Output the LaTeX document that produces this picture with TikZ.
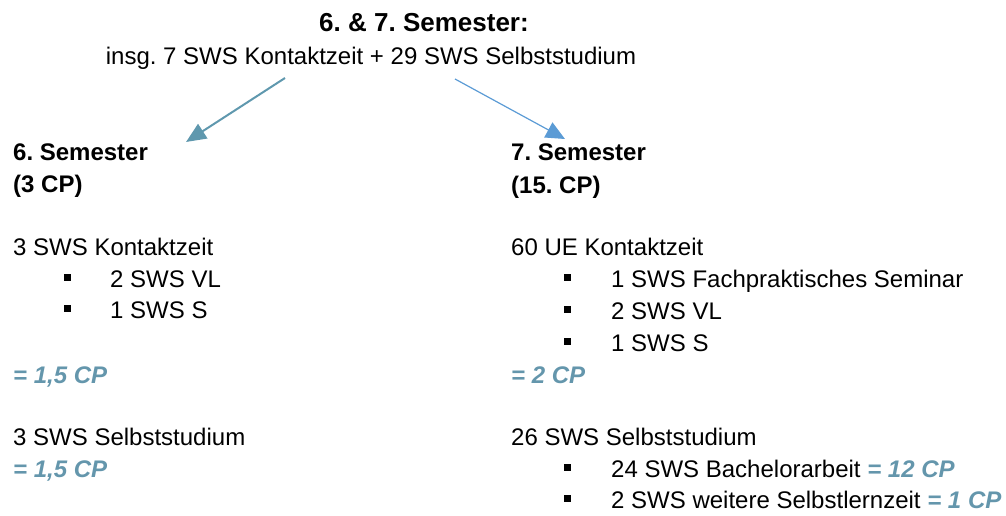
\documentclass[tikz,border=0pt]{standalone}
\usepackage{fontspec}
\setmainfont{Liberation Sans}
\usetikzlibrary{arrows.meta}
\definecolor{cpcol}{RGB}{100,150,172}
\definecolor{arrL}{RGB}{95,152,174}
\definecolor{arrR}{RGB}{91,155,213}
\newcommand{\cp}[1]{\textcolor{cpcol}{\textbf{\textit{#1}}}}
\frenchspacing
\tikzset{
  txt/.style={anchor=base west, inner sep=0pt, font=\fontsize{24}{28}\selectfont},
  ttl/.style={anchor=base, inner sep=0pt, font=\fontsize{24}{28}\selectfont},
  bul/.style={fill=black, inner sep=0pt, minimum size=7pt, draw=none},
}
\begin{document}
\begin{tikzpicture}[x=1pt,y=-1pt]
\useasboundingbox (0,0) rectangle (1006,516);
% title
\node[ttl, font=\fontsize{26}{30}\selectfont\bfseries] (t1) at (424,32) {6. \& 7. Semester:};
\node[ttl] (t2) at (371,65) {insg. 7 SWS Kontaktzeit + 29 SWS Selbststudium};
\coordinate (aLs) at (285,78);
\coordinate (aLe) at (186,142);
\coordinate (aRs) at (455,79);
\coordinate (aRe) at (565,139);
\draw[arrL, line width=2pt, -{Triangle[length=20pt,width=17pt]}] (aLs) -- (aLe);
\draw[arrR, line width=1.2pt, -{Triangle[length=19pt,width=17pt]}] (aRs) -- (aRe);
% left column
\node[txt] (l1) at (13,160) {\textbf{6. Semester}};
\node[txt] (l2) at (13,192) {\textbf{(3 CP)}};
\node[txt] (l3) at (13,255) {3 SWS Kontaktzeit};
\node[bul] (lb1) at (67,277) {};
\node[txt] (l4) at (110,287) {2 SWS VL};
\node[bul] (lb2) at (67,308) {};
\node[txt] (l5) at (110,318) {1 SWS S};
\node[txt] (l6) at (13,383) {\cp{= 1,5 CP}};
\node[txt] (l7) at (13,445) {3 SWS Selbststudium};
\node[txt] (l8) at (13,477) {\cp{= 1,5 CP}};
% right column
\node[txt] (r1) at (511,160) {\textbf{7. Semester}};
\node[txt] (r2) at (511,193) {\textbf{(15. CP)}};
\node[txt] (r3) at (511,255) {60 UE Kontaktzeit};
\node[bul] (rb1) at (567,277) {};
\node[txt] (r4) at (611,287) {1 SWS Fachpraktisches Seminar};
\node[bul] (rb2) at (567,309) {};
\node[txt] (r5) at (611,319) {2 SWS VL};
\node[bul] (rb3) at (567,341) {};
\node[txt] (r6) at (611,351) {1 SWS S};
\node[txt] (r7) at (511,383) {\cp{= 2 CP}};
\node[txt] (r8) at (511,445) {26 SWS Selbststudium};
\node[bul] (rb4) at (567,467) {};
\node[txt] (r9) at (611,477) {24 SWS Bachelorarbeit \cp{= 12 CP}};
\node[bul] (rb5) at (567,498) {};
\node[txt] (r10) at (611,508) {2 SWS weitere Selbstlernzeit \cp{= 1 CP}};
\end{tikzpicture}
\end{document}
